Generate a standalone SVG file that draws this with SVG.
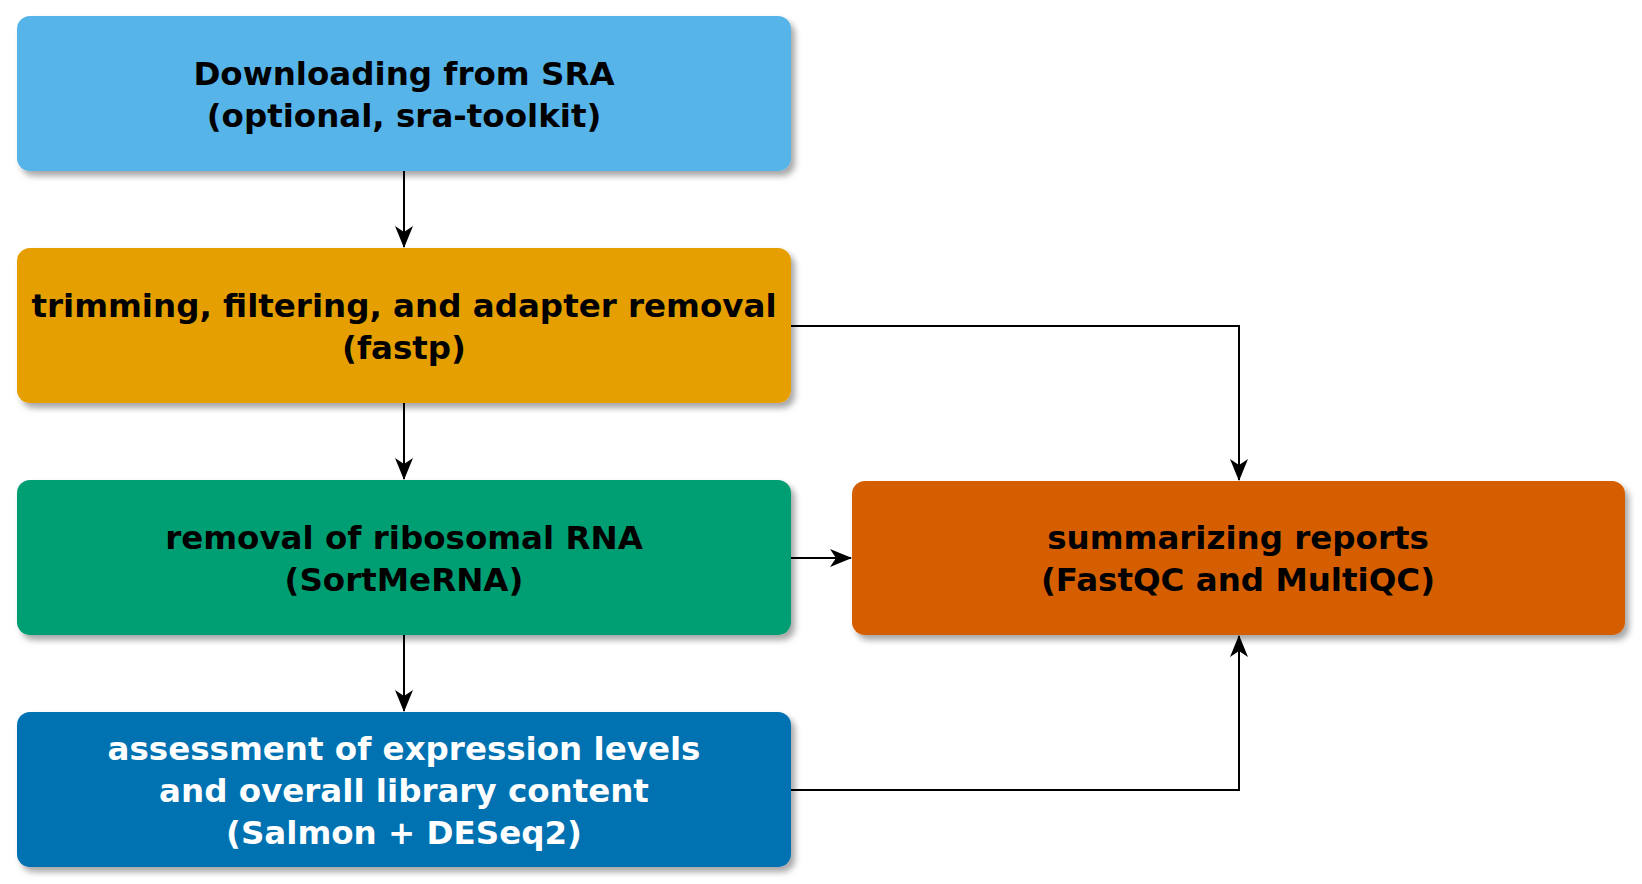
<svg xmlns="http://www.w3.org/2000/svg" width="1642" height="884" viewBox="0 0 1642 884">
<style>
.box{filter:url(#sh);}
.t{font-family:"DejaVu Sans","Liberation Sans",sans-serif;font-weight:bold;font-size:32.5px;text-anchor:middle;fill:#000;}
.w{fill:#fff;}
.c{fill:none;stroke:#000;stroke-width:2;marker-end:url(#ah);}
</style>
<defs>
<filter id="sh" x="-5%" y="-10%" width="115%" height="130%">
<feDropShadow dx="4" dy="5" stdDeviation="3" flood-color="#000" flood-opacity="0.35"/>
</filter>
<marker id="ah" viewBox="0 0 22 18" refX="21" refY="9" markerWidth="22" markerHeight="18" markerUnits="userSpaceOnUse" orient="auto">
<path d="M0,0 L22,9 L0,18 L6,9 Z" fill="#000"/>
</marker>
</defs>
<g id="connectors">
<path class="c" d="M404,171 V247"/>
<path class="c" d="M404,403 V479"/>
<path class="c" d="M404,635 V711"/>
<path class="c" d="M791,326 H1239 V480"/>
<path class="c" d="M791,558 H851"/>
<path class="c" d="M791,790 H1239 V636"/>
</g>
<g id="n1"><rect class="box" x="17" y="16" width="774" height="155" rx="13" fill="#56B4E9"/>
<text class="t" x="404" y="85">Downloading from SRA</text><text class="t" x="404" y="127">(optional, sra-toolkit)</text></g>
<g id="n2"><rect class="box" x="17" y="248" width="774" height="155" rx="13" fill="#E69F00"/>
<text class="t" x="404" y="317">trimming, filtering, and adapter removal</text><text class="t" x="404" y="359">(fastp)</text></g>
<g id="n3"><rect class="box" x="17" y="480" width="774" height="155" rx="13" fill="#009E73"/>
<text class="t" x="404" y="549">removal of ribosomal RNA</text><text class="t" x="404" y="591">(SortMeRNA)</text></g>
<g id="n4"><rect class="box" x="17" y="712" width="774" height="155" rx="13" fill="#0072B2"/>
<text class="t w" x="404" y="760">assessment of expression levels</text><text class="t w" x="404" y="802">and overall library content</text><text class="t w" x="404" y="844">(Salmon + DESeq2)</text></g>
<g id="n5"><rect class="box" x="852" y="481" width="773" height="154" rx="13" fill="#D55E00"/>
<text class="t" x="1238" y="549">summarizing reports</text><text class="t" x="1238" y="591">(FastQC and MultiQC)</text></g>
</svg>
